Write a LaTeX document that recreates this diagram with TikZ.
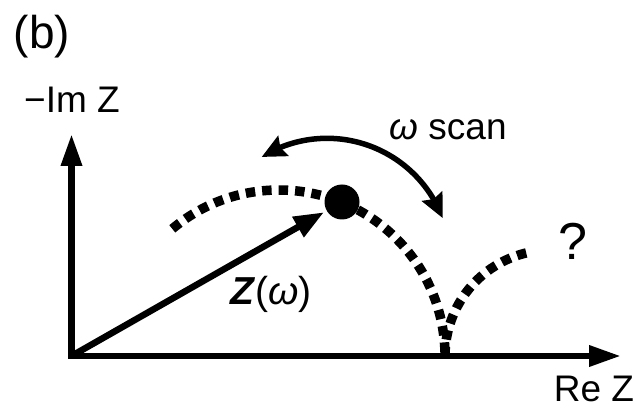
\documentclass[tikz,border=0pt]{standalone}
\usepackage{fontspec}
\setmainfont{Liberation Sans}
\usetikzlibrary{arrows.meta,bending}
\begin{document}
\begin{tikzpicture}[x=1pt,y=1pt,
  dotarc/.style={line width=9.5pt,dash pattern=on 9.5pt off 7pt},
  scanarrow/.style={line width=5.5pt,{Stealth[length=24pt,width=22pt,inset=3pt,flex]}-{Stealth[length=24pt,width=22pt,inset=3pt,flex]}},
  lbl/.style={font=\fontsize{37}{40}\selectfont,inner sep=0pt,anchor=base}]
\useasboundingbox (0,0) rectangle (635,410);
% axes
\coordinate (O) at (71.5,54);
\coordinate (ytip) at (71.5,276);
\coordinate (xtip) at (621,54);
\draw[line width=6.5pt,{Triangle[length=32pt,width=20pt]}-{Triangle[length=32pt,width=20pt]}] (ytip) |- (xtip);
% dotted arcs
\coordinate (c1) at (279,54);
\coordinate (c2) at (551,54);
\draw[dotarc] ([shift={(130:166)}]c1) arc[start angle=130,end angle=0,radius=166];
\draw[dotarc] ([shift={(180:106)}]c2) arc[start angle=180,end angle=102.5,radius=106];
% point
\node[circle,fill=black,minimum size=35pt,inner sep=0pt] (dot) at (342,208) {};
% vector
\draw[line width=6.5pt,-{Triangle[length=30pt,width=22pt]},shorten >=3pt] (O) -- (dot);
% scan arrow
\coordinate (sc) at (327,148);
\draw[scanarrow] ([shift={(121.9:123.7)}]sc) arc[start angle=121.9,end angle=20.8,radius=123.7];
% labels
\node[font=\fontsize{46}{50}\selectfont,inner sep=0pt] (b) at (42,373) {(b)};
\node[lbl] (im) at (72,297) {−Im Z};
\node[lbl] (re) at (594,9) {Re Z};
\node[lbl] (scan) at (448,270) {\textit{ω} scan};
\node[lbl,font=\fontsize{52}{56}\selectfont] (q) at (573,150) {?};
\node[lbl,font=\fontsize{39}{42}\selectfont] (zw) at (271,105) {\textbf{\textit{Z}}(\textit{ω})};
\end{tikzpicture}
\end{document}
